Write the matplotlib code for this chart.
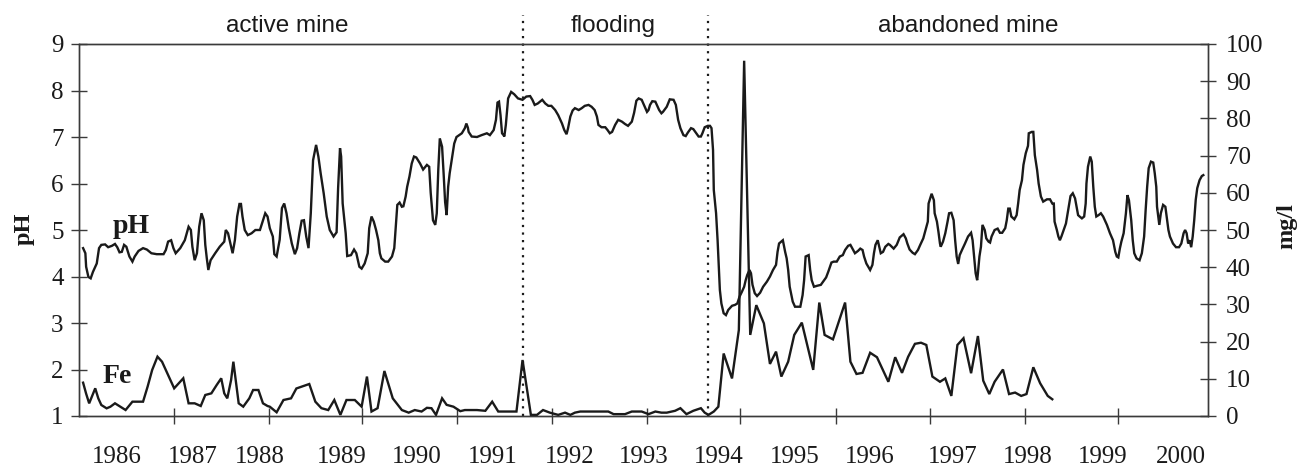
import matplotlib
matplotlib.use("Agg")
import matplotlib.pyplot as plt
from matplotlib.ticker import FixedLocator, NullFormatter, FixedFormatter

# ---------------- data ----------------
ph_year = [
    1986.09, 1986.12, 1986.13, 1986.16, 1986.19, 1986.22, 1986.27, 1986.30, 1986.33, 1986.38,
    1986.42, 1986.47, 1986.51, 1986.54, 1986.57, 1986.60, 1986.63, 1986.66, 1986.70, 1986.74,
    1986.77, 1986.82, 1986.88, 1986.93, 1986.99, 1987.06, 1987.15, 1987.18, 1987.21, 1987.25,
    1987.28, 1987.31, 1987.37, 1987.43, 1987.48, 1987.51, 1987.53, 1987.56, 1987.59, 1987.62,
    1987.65, 1987.68, 1987.70, 1987.72, 1987.74, 1987.77, 1987.83, 1987.89, 1987.95, 1987.97,
    1988.00, 1988.03, 1988.06, 1988.09, 1988.12, 1988.15, 1988.17, 1988.19, 1988.22, 1988.26,
    1988.31, 1988.36, 1988.42, 1988.46, 1988.49, 1988.52, 1988.55, 1988.59, 1988.61, 1988.64,
    1988.68, 1988.71, 1988.74, 1988.77, 1988.80, 1988.84, 1988.88, 1988.91, 1988.94, 1988.97,
    1989.00, 1989.03, 1989.06, 1989.09, 1989.12, 1989.16, 1989.19, 1989.22, 1989.26, 1989.30,
    1989.34, 1989.39, 1989.43, 1989.45, 1989.475, 1989.49, 1989.51, 1989.55, 1989.57, 1989.62,
    1989.66, 1989.69, 1989.73, 1989.76, 1989.80, 1989.84, 1989.86, 1989.89, 1989.92, 1989.95,
    1989.98, 1990.00, 1990.02, 1990.07, 1990.11, 1990.16, 1990.19, 1990.21, 1990.23, 1990.26,
    1990.29, 1990.31, 1990.34, 1990.36, 1990.39, 1990.42, 1990.45, 1990.48, 1990.53, 1990.57,
    1990.62, 1990.65, 1990.67, 1990.70, 1990.73, 1990.75, 1990.77, 1990.79, 1990.82, 1990.84,
    1990.86, 1990.88, 1990.90, 1990.92, 1990.96, 1990.98, 1991.01, 1991.08, 1991.12, 1991.14,
    1991.16, 1991.17, 1991.21, 1991.28, 1991.34, 1991.41, 1991.45, 1991.50, 1991.53, 1991.55,
    1991.57, 1991.59, 1991.61, 1991.63, 1991.64, 1991.66, 1991.68, 1991.69, 1991.73, 1991.77,
    1991.82, 1991.88, 1991.93, 1991.98, 1992.01, 1992.04, 1992.08, 1992.11, 1992.14, 1992.18,
    1992.22, 1992.26, 1992.31, 1992.35, 1992.40, 1992.43, 1992.46, 1992.48, 1992.51, 1992.54,
    1992.57, 1992.62, 1992.66, 1992.70, 1992.75, 1992.79, 1992.83, 1992.86, 1992.88, 1992.92,
    1992.97, 1993.00, 1993.03, 1993.06, 1993.10, 1993.14, 1993.19, 1993.23, 1993.27, 1993.32,
    1993.35, 1993.38, 1993.41, 1993.45, 1993.49, 1993.52, 1993.54, 1993.56, 1993.59, 1993.63,
    1993.65, 1993.68, 1993.71, 1993.73, 1993.78, 1993.82, 1993.87, 1993.90, 1993.93, 1993.96,
    1994.00, 1994.03, 1994.06, 1994.10, 1994.13, 1994.17, 1994.20, 1994.23, 1994.25, 1994.28,
    1994.32, 1994.35, 1994.37, 1994.39, 1994.40, 1994.43, 1994.45, 1994.46, 1994.48, 1994.50,
    1994.53, 1994.56, 1994.59, 1994.64, 1994.68, 1994.71, 1994.74, 1994.77, 1994.80, 1994.82,
    1994.84, 1994.87, 1994.89, 1994.91, 1994.94, 1994.97, 1995.01, 1995.05, 1995.10, 1995.14,
    1995.18, 1995.22, 1995.24, 1995.26, 1995.31, 1995.34, 1995.36, 1995.38, 1995.40, 1995.44,
    1995.47, 1995.51, 1995.54, 1995.57, 1995.59, 1995.61, 1995.65, 1995.67, 1995.69, 1995.72,
    1995.76, 1995.81, 1995.84, 1995.88, 1995.91, 1995.95, 1995.98, 1996.02, 1996.06, 1996.10,
    1996.13, 1996.17, 1996.20, 1996.23, 1996.26, 1996.30, 1996.33, 1996.36, 1996.38, 1996.41,
    1996.46, 1996.49, 1996.51, 1996.53, 1996.56, 1996.58, 1996.60, 1996.63, 1996.66, 1996.70,
    1996.72, 1996.77, 1996.81, 1996.85, 1996.90, 1996.93, 1996.95, 1996.98, 1997.02, 1997.05,
    1997.09, 1997.12, 1997.16, 1997.19, 1997.22, 1997.23, 1997.27, 1997.30, 1997.31, 1997.34,
    1997.36, 1997.38, 1997.39, 1997.42, 1997.45, 1997.48, 1997.50, 1997.53, 1997.56, 1997.58,
    1997.60, 1997.62, 1997.64, 1997.67, 1997.71, 1997.75, 1997.79, 1997.81, 1997.83, 1997.85,
    1997.87, 1997.88, 1997.90, 1997.92, 1997.94, 1997.97, 1997.99, 1998.02, 1998.04, 1998.06,
    1998.10, 1998.14, 1998.17, 1998.20, 1998.24, 1998.26, 1998.28, 1998.30, 1998.32, 1998.36,
    1998.39, 1998.41, 1998.43, 1998.46, 1998.48, 1998.51, 1998.54, 1998.55, 1998.59, 1998.61,
    1998.63, 1998.66, 1998.68, 1998.71, 1998.74, 1998.79, 1998.83, 1998.86, 1998.88, 1998.89,
    1998.92, 1998.94, 1998.96, 1998.98, 1999.01, 1999.04, 1999.07, 1999.10, 1999.13, 1999.16,
    1999.18, 1999.20, 1999.22, 1999.25, 1999.28, 1999.30, 1999.31, 1999.33, 1999.36, 1999.38,
    1999.40, 1999.42, 1999.44, 1999.47, 1999.50, 1999.53, 1999.58, 1999.62, 1999.66, 1999.69,
    1999.71, 1999.73, 1999.75, 1999.77, 1999.80, 1999.83, 1999.85, 1999.87, 1999.90, 1999.92,
    1999.94, 1999.97, 2000.01, 2000.04, 2000.07, 2000.09, 2000.11, 2000.13, 2000.16, 2000.19,
    2000.21, 2000.23, 2000.24, 2000.27, 2000.29, 2000.32, 2000.35, 2000.37, 2000.39, 2000.41,
    2000.45, 2000.49, 2000.53, 2000.56, 2000.59, 2000.61, 2000.63, 2000.65, 2000.67, 2000.69,
    2000.71, 2000.73, 2000.75, 2000.77, 2000.80, 2000.83, 2000.85,
]
ph_value = [
    4.61, 4.50, 4.21, 3.99, 3.96, 4.10, 4.28, 4.61, 4.68, 4.69,
    4.63, 4.66, 4.70, 4.63, 4.52, 4.53, 4.68, 4.64, 4.43, 4.32,
    4.43, 4.55, 4.61, 4.58, 4.50, 4.48, 4.48, 4.57, 4.75, 4.78,
    4.61, 4.50, 4.61, 4.78, 5.07, 5.00, 4.64, 4.35, 4.50, 5.07,
    5.36, 5.21, 4.68, 4.39, 4.14, 4.35, 4.50, 4.64, 4.75, 5.00,
    4.93, 4.71, 4.50, 4.78, 5.29, 5.56, 5.56, 5.29, 5.00, 4.89,
    4.93, 5.00, 5.00, 5.21, 5.36, 5.29, 5.04, 4.86, 4.48, 4.43,
    4.79, 5.47, 5.57, 5.36, 5.04, 4.71, 4.48, 4.61, 4.93, 5.20,
    5.21, 4.86, 4.61, 5.36, 6.50, 6.83, 6.58, 6.22, 5.79, 5.29,
    5.00, 4.86, 4.95, 5.90, 6.76, 6.58, 5.57, 4.93, 4.44, 4.46,
    4.58, 4.50, 4.21, 4.17, 4.28, 4.50, 5.04, 5.29, 5.18, 5.00,
    4.78, 4.50, 4.39, 4.32, 4.32, 4.43, 4.61, 5.07, 5.54, 5.59,
    5.50, 5.51, 5.72, 5.93, 6.15, 6.43, 6.58, 6.56, 6.43, 6.30,
    6.40, 6.36, 5.80, 5.21, 5.11, 5.36, 6.30, 6.97, 6.79, 6.22,
    5.60, 5.32, 5.93, 6.22, 6.65, 6.86, 7.00, 7.08, 7.19, 7.29,
    7.20, 7.11, 7.01, 7.00, 7.04, 7.08, 7.04, 7.15, 7.37, 7.74,
    7.76, 7.47, 7.08, 7.04, 7.01, 7.26, 7.65, 7.83, 7.97, 7.92,
    7.83, 7.80, 7.87, 7.88, 7.80, 7.69, 7.72, 7.76, 7.80, 7.72,
    7.67, 7.67, 7.58, 7.47, 7.29, 7.15, 7.06, 7.19, 7.44, 7.57,
    7.62, 7.58, 7.62, 7.67, 7.69, 7.65, 7.58, 7.44, 7.26, 7.21,
    7.21, 7.15, 7.08, 7.11, 7.26, 7.37, 7.33, 7.28, 7.24, 7.33,
    7.52, 7.78, 7.83, 7.80, 7.65, 7.54, 7.58, 7.69, 7.77, 7.76,
    7.69, 7.58, 7.51, 7.54, 7.65, 7.81, 7.80, 7.69, 7.37, 7.19,
    7.04, 7.02, 7.10, 7.19, 7.17, 7.08, 7.01, 7.01, 7.08, 7.21,
    7.24, 7.24, 7.19, 6.72, 5.86, 5.36, 4.78, 4.43, 3.71, 3.42,
    3.21, 3.17, 3.28, 3.37, 3.39, 3.42, 3.57, 3.67, 3.78, 3.92,
    4.03, 4.14, 4.07, 3.82, 3.64, 3.58, 3.65, 3.78, 3.89, 4.00,
    4.14, 4.25, 4.53, 4.71, 4.78, 4.53, 4.39, 4.14, 3.78, 3.46,
    3.35, 3.35, 3.35, 3.60, 3.92, 4.43, 4.46, 4.14, 3.92, 3.78,
    3.80, 3.82, 3.89, 3.98, 4.11, 4.30, 4.32, 4.32, 4.43, 4.46,
    4.57, 4.66, 4.68, 4.59, 4.50, 4.55, 4.60, 4.57, 4.43, 4.28,
    4.14, 4.25, 4.50, 4.68, 4.78, 4.64, 4.50, 4.53, 4.64, 4.70,
    4.68, 4.60, 4.68, 4.84, 4.91, 4.82, 4.71, 4.58, 4.51, 4.48,
    4.57, 4.68, 4.82, 5.00, 5.18, 5.57, 5.78, 5.64, 5.36, 5.18,
    4.96, 4.71, 4.64, 4.75, 4.93, 5.18, 5.36, 5.37, 5.21, 4.78,
    4.43, 4.27, 4.46, 4.57, 4.71, 4.86, 4.94, 4.78, 4.43, 4.07,
    3.92, 4.07, 4.43, 4.64, 5.11, 5.00, 4.82, 4.75, 4.73, 4.86,
    5.00, 5.03, 4.94, 4.94, 5.04, 5.21, 5.46, 5.46, 5.29, 5.23,
    5.32, 5.57, 5.86, 6.07, 6.40, 6.65, 6.81, 7.08, 7.11, 7.11,
    6.61, 6.29, 6.00, 5.72, 5.61, 5.66, 5.66, 5.57, 5.57, 5.18,
    5.00, 4.86, 4.78, 4.86, 5.00, 5.14, 5.43, 5.73, 5.79, 5.68,
    5.50, 5.32, 5.29, 5.25, 5.29, 5.57, 6.00, 6.36, 6.58, 6.47,
    5.93, 5.50, 5.29, 5.32, 5.36, 5.29, 5.11, 4.93, 4.78, 4.53,
    4.43, 4.41, 4.60, 4.75, 4.93, 5.36, 5.75, 5.64, 5.21, 4.78,
    4.50, 4.39, 4.35, 4.50, 4.86, 5.43, 5.93, 6.33, 6.47, 6.45,
    6.22, 5.93, 5.50, 5.11, 5.36, 5.54, 5.50, 5.25, 5.00, 4.86,
    4.71, 4.63, 4.63, 4.71, 4.93, 5.00, 4.93, 4.71, 4.78, 4.63,
    4.86, 5.21, 5.65, 5.90, 6.07, 6.16, 6.18,
]

fe_year = [
    1986.09, 1986.13, 1986.17, 1986.25, 1986.29, 1986.33, 1986.40, 1986.45, 1986.51, 1986.58,
    1986.65, 1986.74, 1986.82, 1986.88, 1986.94, 1987.00, 1987.07, 1987.13, 1987.19, 1987.24,
    1987.29, 1987.35, 1987.41, 1987.48, 1987.56, 1987.64, 1987.70, 1987.78, 1987.85, 1987.91,
    1987.95, 1987.99, 1988.04, 1988.07, 1988.11, 1988.14, 1988.20, 1988.28, 1988.33, 1988.40,
    1988.46, 1988.52, 1988.55, 1988.64, 1988.73, 1988.83, 1988.90, 1989.07, 1989.15, 1989.23,
    1989.32, 1989.40, 1989.48, 1989.56, 1989.67, 1989.76, 1989.83, 1989.89, 1989.97, 1990.06,
    1990.17, 1990.29, 1990.38, 1990.46, 1990.55, 1990.62, 1990.68, 1990.74, 1990.82, 1990.88,
    1990.97, 1991.06, 1991.12, 1991.28, 1991.39, 1991.48, 1991.56, 1991.69, 1991.80, 1991.88,
    1991.99, 1992.07, 1992.15, 1992.24, 1992.35, 1992.44, 1992.51, 1992.57, 1992.64, 1992.79,
    1993.01, 1993.08, 1993.23, 1993.32, 1993.45, 1993.54, 1993.63, 1993.71, 1993.78, 1993.89,
    1993.96, 1994.04, 1994.13, 1994.23, 1994.28, 1994.33, 1994.40, 1994.46, 1994.53, 1994.64,
    1994.73, 1994.80, 1994.88, 1994.96, 1995.06, 1995.14, 1995.22, 1995.29, 1995.38, 1995.46,
    1995.56, 1995.71, 1995.79, 1995.86, 1995.97, 1996.13, 1996.20, 1996.28, 1996.36, 1996.46,
    1996.55, 1996.70, 1996.79, 1996.88, 1996.96, 1997.05, 1997.13, 1997.20, 1997.28, 1997.38,
    1997.45, 1997.53, 1997.61, 1997.69, 1997.79, 1997.88, 1997.95, 1998.03, 1998.10, 1998.21,
    1998.29, 1998.37, 1998.45, 1998.52, 1998.61, 1998.70, 1998.80, 1998.86,
]
fe_value = [
    8.96, 6.0, 3.4, 7.44, 4.75, 2.96, 2.06, 2.5, 3.41, 2.51,
    1.61, 3.85, 3.85, 3.85, 7.89, 12.37, 15.95, 14.6, 11.92, 9.68,
    7.44, 8.78, 10.13, 3.41, 3.41, 2.69, 5.65, 6.09, 8.33, 10.13,
    6.09, 4.75, 9.68, 14.6, 8.33, 3.41, 2.51, 4.75, 6.99, 6.99,
    3.41, 2.69, 2.5, 1.0, 4.3, 4.75, 7.4, 8.6, 3.85, 2.1,
    1.6, 4.3, 0.3, 4.3, 4.3, 2.5, 10.6, 1.2, 2.1, 12.1,
    4.75, 1.6, 0.9, 1.6, 1.2, 2.2, 2.1, 0.3, 4.75, 3.0,
    2.5, 1.3, 1.6, 1.6, 1.4, 3.85, 1.2, 1.2, 1.2, 15.05,
    0.3, 0.3, 1.6, 0.9, 0.3, 0.9, 0.3, 0.9, 1.2, 1.2,
    1.2, 0.5, 0.5, 1.2, 1.2, 0.5, 1.2, 0.9, 0.9, 1.4,
    2.1, 0.5, 1.4, 2.1, 0.9, 0.3, 1.2, 2.5, 16.8, 10.1,
    23.1, 95.5, 21.8, 29.8, 24.9, 14.0, 17.3, 10.6, 14.6, 21.8,
    25.1, 12.4, 30.5, 21.8, 20.6, 30.5, 14.6, 11.3, 11.6, 17.0,
    15.8, 9.2, 15.8, 11.6, 15.9, 19.4, 19.7, 19.1, 10.6, 9.2,
    10.1, 5.4, 19.1, 20.9, 11.5, 21.5, 9.5, 5.9, 9.2, 12.5,
    5.9, 6.3, 5.4, 5.9, 13.1, 8.8, 5.4, 4.5,
]

phase_boundaries = [1991.88, 1994.33]
phase_names = ["active mine", "flooding", "abandoned mine"]
year_labels = [str(y) for y in range(1986, 2001)]
ph_ticks = list(range(1, 10))
mgl_ticks = list(range(0, 101, 10))

# ---------------- layout / style ----------------
W, H = 1298, 466
L, R, T, B = 79.3, 1207.5, 44, 416
XLIM = (1986.04, 2000.905)
year_label_pos = [1986.54, 1987.53, 1988.42, 1989.50, 1990.49, 1991.49, 1992.50, 1993.48,
                  1994.47, 1995.46, 1996.45, 1997.55, 1998.54, 1999.53, 2000.55]
x_tick_marks = [1987.288, 1988.543, 1989.769, 1991.020, 1992.264, 1993.524, 1994.751,
                1996.006, 1997.248, 1998.506, 1999.725]
phase_label_x = [1988.78, 1993.07, 1997.75]

SERIF = ["Liberation Serif", "DejaVu Serif"]
SANS = ["Liberation Sans", "DejaVu Sans"]
LINE_C = "#1a1a1a"
SPINE_C = "#3a3a3a"
TICK_FS = 18

fig = plt.figure(figsize=(W / 100, H / 100), dpi=100)
ax = fig.add_axes([L / W, 1 - B / H, (R - L) / W, (B - T) / H])
ax2 = ax.twinx()

ax.plot(ph_year, ph_value, color=LINE_C, lw=1.7, solid_joinstyle="miter")
ax2.plot(fe_year, fe_value, color=LINE_C, lw=1.7, solid_joinstyle="miter")

ax.set_xlim(*XLIM)
ax.set_ylim(1, 9)
ax2.set_ylim(0, 100)

for a in (ax, ax2):
    for s in a.spines.values():
        s.set_color(SPINE_C)
        s.set_linewidth(1.0)

# y ticks
ax.set_yticks(ph_ticks)
ax.set_yticklabels([str(v) for v in ph_ticks])
ax.tick_params(axis="y", direction="inout", length=11.5, width=1.0, color=SPINE_C,
               pad=5.5, labelsize=TICK_FS)
ax2.set_yticks(mgl_ticks)
ax2.set_yticklabels([str(v) for v in mgl_ticks])
ax2.tick_params(axis="y", direction="inout", length=11.5, width=1.0, color=SPINE_C,
                pad=7.5, labelsize=TICK_FS)

# x ticks: marks (major, unlabeled) and year labels (minor, no marks)
ax.xaxis.set_major_locator(FixedLocator(x_tick_marks))
ax.xaxis.set_major_formatter(NullFormatter())
ax.xaxis.set_minor_locator(FixedLocator(year_label_pos))
ax.xaxis.set_minor_formatter(FixedFormatter(year_labels))
ax.tick_params(axis="x", which="major", direction="inout", length=11, width=1.0, color=SPINE_C)
ax.tick_params(axis="x", which="minor", length=0, pad=21.5, labelsize=TICK_FS)

for lab in ax.get_yticklabels() + ax2.get_yticklabels() + ax.get_xticklabels(minor=True):
    lab.set_family(SERIF)
    lab.set_color("#1a1a1a")

# phase boundaries (dotted, extending above the plot)
for xb in phase_boundaries:
    ax.plot([xb, xb], [0, 1.078], transform=ax.get_xaxis_transform(), clip_on=False,
            color=LINE_C, lw=1.6, ls=(0, (1, 2.4)))

# phase headings
for name, xp in zip(phase_names, phase_label_x):
    ax.text(xp, 1.0336, name, transform=ax.get_xaxis_transform(), ha="center",
            va="baseline", fontsize=17.5, family=SANS, color="#1a1a1a")

# series labels
ax.text(1986.72, 4.935, "pH", ha="center", va="baseline", fontsize=20,
        fontweight="bold", family=SERIF, color="#1a1a1a")
ax.text(1986.54, 1.70, "Fe", ha="center", va="baseline", fontsize=20,
        fontweight="bold", family=SERIF, color="#1a1a1a")

# axis titles
fig.text(24 / W, 1 - 229 / H, "pH", rotation=90, ha="center", va="center",
         fontsize=17.5, fontweight="bold", family=SERIF, color="#1a1a1a")
fig.text(1287 / W, 1 - 226 / H, "mg/l", rotation=90, ha="center", va="center",
         fontsize=17.5, fontweight="bold", family=SERIF, color="#1a1a1a")

fig.savefig("out.png", dpi=100)
